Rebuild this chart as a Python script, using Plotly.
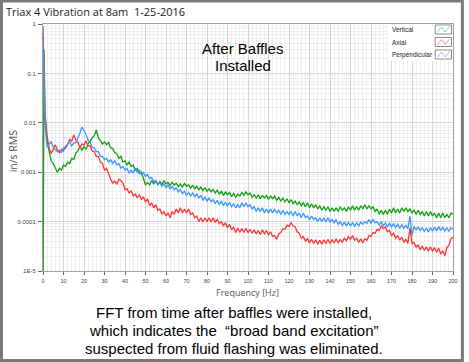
import plotly.graph_objects as go

# ---------------- data ----------------
freq_hz = [0, 0.5] + list(range(1, 201))

vertical = [
    1e-6, 0.3,
    0.012, 0.0045, 0.0026, 0.0017, 0.0015, 0.0012, 0.0010, 0.0012, 0.0011, 0.0014,
    0.0013, 0.0016, 0.0015, 0.0019, 0.0018, 0.0024, 0.0027, 0.0033, 0.0028, 0.0033,
    0.0029, 0.0038, 0.0042, 0.0050, 0.0055, 0.0072, 0.0050, 0.0043, 0.0037, 0.0041,
    0.0036, 0.0040, 0.0031, 0.0030, 0.0025, 0.0024, 0.0019, 0.0021, 0.0016, 0.0017,
    0.0014, 0.0016, 0.0013, 0.0014, 0.0011, 0.0012, 0.00095, 0.0010, 0.00075, 0.00055,
    0.00062, 0.00055, 0.00068, 0.00058, 0.00066, 0.00057, 0.00065, 0.00056, 0.00068, 0.00058,
    0.00062, 0.00054, 0.00063, 0.00055, 0.00060, 0.00051, 0.00058, 0.00050, 0.00059, 0.00052,
    0.00056, 0.00047, 0.00055, 0.00046, 0.00052, 0.00044, 0.00050, 0.00042, 0.00049, 0.00041,
    0.00046, 0.00040, 0.00045, 0.00038, 0.00043, 0.00036, 0.00041, 0.00034, 0.00040, 0.00035,
    0.00039, 0.00032, 0.00037, 0.00031, 0.00036, 0.00033, 0.00039, 0.00034, 0.00040, 0.00035,
    0.00038, 0.00031, 0.00035, 0.00030, 0.00035, 0.00029, 0.00034, 0.00030, 0.00034, 0.00028,
    0.00033, 0.00029, 0.00033, 0.00027, 0.00031, 0.00026, 0.00030, 0.00025, 0.00029, 0.00024,
    0.00028, 0.00023, 0.00026, 0.00022, 0.00025, 0.00021, 0.00024, 0.00020, 0.00024, 0.00019,
    0.00023, 0.00019, 0.00022, 0.00018, 0.00021, 0.00017, 0.00020, 0.00017, 0.00020, 0.00016,
    0.00019, 0.00016, 0.00019, 0.00016, 0.00020, 0.00017, 0.00019, 0.00016, 0.00020, 0.00017,
    0.00021, 0.00017, 0.00020, 0.00017, 0.00021, 0.00018, 0.00022, 0.00018, 0.00021, 0.00018,
    0.00020, 0.00016, 0.00018, 0.00014, 0.00017, 0.00014, 0.00017, 0.00014, 0.00018, 0.00015,
    0.00019, 0.00015, 0.00018, 0.00015, 0.00019, 0.00016, 0.00019, 0.00016, 0.00018, 0.00015,
    0.00017, 0.00014, 0.00017, 0.00014, 0.00016, 0.00013, 0.00016, 0.00013, 0.00016, 0.00013,
    0.00015, 0.00012, 0.00015, 0.00012, 0.00015, 0.00012, 0.00014, 0.00012, 0.00015, 0.00014,
]

axial = [
    0.9, 0.05,
    0.016, 0.0055, 0.0030, 0.0024, 0.0029, 0.0036, 0.0028, 0.0025, 0.0029, 0.0027,
    0.0034, 0.0036, 0.0046, 0.0042, 0.0057, 0.0045, 0.0041, 0.0031, 0.0037, 0.0036,
    0.0043, 0.0034, 0.0034, 0.0027, 0.0026, 0.0021, 0.0021, 0.0016, 0.0015, 0.0011,
    0.0012, 0.00090, 0.00072, 0.00060, 0.00066, 0.00058, 0.00072, 0.00068, 0.00060, 0.00044,
    0.00046, 0.00038, 0.00042, 0.00033, 0.00036, 0.00030, 0.00035, 0.00028, 0.00032, 0.00025,
    0.00029, 0.00021, 0.00024, 0.00019, 0.00022, 0.00017, 0.00018, 0.00014, 0.00016, 0.00013,
    0.00015, 0.00012, 0.00016, 0.00014, 0.00018, 0.00015, 0.00019, 0.00015, 0.00018, 0.00015,
    0.00018, 0.00014, 0.00015, 0.00012, 0.00013, 0.00010, 0.00012, 0.000098, 0.00012, 0.00010,
    0.00012, 0.000098, 0.00012, 0.000098, 0.00011, 0.000090, 0.00010, 0.000082, 0.000095, 0.000075,
    0.000088, 0.000068, 0.000078, 0.000060, 0.000074, 0.000061, 0.000072, 0.000060, 0.000073, 0.000060,
    0.000070, 0.000058, 0.000068, 0.000056, 0.000066, 0.000055, 0.000068, 0.000057, 0.000066, 0.000054,
    0.000062, 0.000050, 0.000052, 0.000044, 0.000056, 0.000060, 0.000072, 0.000070, 0.000085, 0.000080,
    0.000095, 0.000082, 0.000078, 0.000062, 0.000058, 0.000046, 0.000050, 0.000040, 0.000046, 0.000037,
    0.000044, 0.000036, 0.000043, 0.000035, 0.000042, 0.000035, 0.000043, 0.000036, 0.000044, 0.000036,
    0.000043, 0.000037, 0.000045, 0.000037, 0.000043, 0.000038, 0.000046, 0.000041, 0.000050, 0.000044,
    0.000052, 0.000042, 0.000046, 0.000038, 0.000045, 0.000037, 0.000045, 0.000042, 0.000052, 0.000050,
    0.000060, 0.000058, 0.000070, 0.000066, 0.000082, 0.000072, 0.000078, 0.000062, 0.000066, 0.000052,
    0.000058, 0.000046, 0.000052, 0.000042, 0.000048, 0.000038, 0.000044, 0.000036, 0.000075, 0.000036,
    0.000038, 0.000030, 0.000034, 0.000027, 0.000032, 0.000026, 0.000031, 0.000025, 0.000031, 0.000025,
    0.000030, 0.000024, 0.000029, 0.000022, 0.000026, 0.000020, 0.000030, 0.000033, 0.000045, 0.000048,
]

perpendicular = [
    0.5, 0.03,
    0.009, 0.0032, 0.0036, 0.0042, 0.0032, 0.0029, 0.0026, 0.0028, 0.0025, 0.0031,
    0.0030, 0.0037, 0.0041, 0.0034, 0.0039, 0.0040, 0.0048, 0.0062, 0.0082, 0.0068,
    0.0058, 0.0044, 0.0040, 0.0032, 0.0031, 0.0026, 0.0026, 0.0021, 0.0021, 0.0018,
    0.0019, 0.0016, 0.0018, 0.0015, 0.0017, 0.0014, 0.0015, 0.0012, 0.0013, 0.0011,
    0.0012, 0.00095, 0.0011, 0.00096, 0.0012, 0.0010, 0.0011, 0.00090, 0.00098, 0.00082,
    0.00090, 0.00074, 0.00078, 0.00064, 0.00068, 0.00055, 0.00062, 0.00052, 0.00058, 0.00049,
    0.00055, 0.00046, 0.00052, 0.00044, 0.00048, 0.00040, 0.00045, 0.00037, 0.00041, 0.00034,
    0.00039, 0.00033, 0.00038, 0.00032, 0.00036, 0.00030, 0.00034, 0.00027, 0.00031, 0.00026,
    0.00030, 0.00025, 0.00028, 0.00023, 0.00027, 0.00022, 0.00026, 0.00021, 0.00025, 0.00021,
    0.00024, 0.00020, 0.00023, 0.00019, 0.00022, 0.00019, 0.00024, 0.00020, 0.00024, 0.00020,
    0.00022, 0.00018, 0.00020, 0.00016, 0.00019, 0.00016, 0.00019, 0.00015, 0.00018, 0.00015,
    0.00018, 0.00015, 0.00018, 0.00015, 0.00017, 0.00014, 0.00017, 0.00014, 0.00016, 0.00014,
    0.00016, 0.00013, 0.00016, 0.00013, 0.00015, 0.00012, 0.00015, 0.00012, 0.00013, 0.00011,
    0.00013, 0.00011, 0.00012, 0.00010, 0.00012, 0.00010, 0.00012, 0.000098, 0.00012, 0.000098,
    0.00011, 0.000095, 0.00011, 0.000088, 0.00010, 0.000084, 0.000098, 0.000082, 0.000096, 0.000082,
    0.000095, 0.000080, 0.000094, 0.000082, 0.000098, 0.000088, 0.00010, 0.000092, 0.00011, 0.000094,
    0.00011, 0.000095, 0.00010, 0.000086, 0.000098, 0.000082, 0.000094, 0.000078, 0.000092, 0.000078,
    0.000090, 0.000076, 0.000088, 0.000074, 0.000086, 0.000073, 0.000084, 0.000072, 0.00013, 0.000052,
    0.000080, 0.000068, 0.000078, 0.000066, 0.000076, 0.000063, 0.000074, 0.000062, 0.000076, 0.000064,
    0.000078, 0.000065, 0.000079, 0.000066, 0.000078, 0.000064, 0.000076, 0.000063, 0.000075, 0.000070,
]

series_names = ["Vertical", "Axial", "Perpendicular"]
series_values = [vertical, axial, perpendicular]
series_colors = ["#12a012", "#ff3535", "#3a96ff"]
legend_icon_colors = ["#7ee07e", "#ff9090", "#8cc4ff"]

y_tick_values = [1e-5, 1e-4, 1e-3, 1e-2, 1e-1, 1]
y_tick_labels = ["1E-5", "0.0001", "0.001", "0.01", "0.1", "1"]
x_tick_values = list(range(0, 201, 10))

chart_title = "Triax 4 Vibration at 8am  1-25-2016"
x_title = "Frequency [Hz]"
y_title = "in/s RMS"
inset_lines = ["After Baffles", "Installed"]
caption_lines = [
    "FFT from time after baffles were installed,",
    "which indicates the  \u201cbroad band excitation\u201d",
    "suspected from fluid flashing was eliminated.",
]

# ---------------- layout geometry (pixels) ----------------
W, H = 469, 362
ML, MR, MT, MB = 43, 11, 24, 91
PW, PH = W - ML - MR, H - MT - MB


def px(x):
    return (x - ML) / PW


def py(y):
    return (H - MB - y) / PH


fig = go.Figure()
for name, vals, col in zip(series_names, series_values, series_colors):
    fig.add_trace(go.Scatter(x=freq_hz, y=vals, mode="lines", name=name,
                             line=dict(color=col, width=1.3), showlegend=False))

tick_font = dict(family="Liberation Sans, Arial", size=6, color="#444444")

fig.update_layout(
    width=W, height=H,
    margin=dict(l=ML, r=MR, t=MT, b=MB, pad=0),
    paper_bgcolor="white", plot_bgcolor="white",
    showlegend=False,
    xaxis=dict(range=[0, 200], tickvals=x_tick_values, ticks="outside", ticklen=3,
               tickcolor="#666666", tickfont=dict(family="Liberation Sans, Arial", size=5.5,
                                                  color="#444444"),
               showline=True, linecolor="#a0a0a0",
               mirror=True, showgrid=True, gridcolor="#d6d6d6", gridwidth=1, zeroline=False,
               minor=dict(dtick=2, showgrid=True, gridcolor="#eeeeee", ticks=""),
               ticklabelstandoff=1),
    yaxis=dict(type="log", range=[-5, 0], tickvals=y_tick_values, ticktext=y_tick_labels,
               ticks="outside", ticklen=4, tickcolor="#666666", tickfont=tick_font,
               showline=True, linecolor="#a0a0a0", mirror=True, showgrid=True,
               gridcolor="#d6d6d6", zeroline=False,
               minor=dict(dtick="D1", showgrid=True, gridcolor="#eeeeee", ticks=""),
               ticklabelstandoff=1),
)

annotations = []
# title
annotations.append(dict(x=px(4), y=py(11), xref="paper", yref="paper", text=chart_title,
                        showarrow=False, xanchor="left", yanchor="middle",
                        font=dict(family="Open Sans", size=11, color="#1a1a1a")))
# axis titles
annotations.append(dict(x=px(250), y=py(292), xref="paper", yref="paper", text=x_title,
                        showarrow=False, xanchor="center", yanchor="middle",
                        font=dict(family="Open Sans", size=9, color="#555555")))
annotations.append(dict(x=px(13), y=py(151), xref="paper", yref="paper", text=y_title,
                        showarrow=False, xanchor="center", yanchor="middle", textangle=-90,
                        font=dict(family="Open Sans", size=10.5, color="#555555")))
# inset text
for t, yy in zip(inset_lines, [48, 65]):
    annotations.append(dict(x=px(245), y=py(yy), xref="paper", yref="paper", text=t,
                            showarrow=False, xanchor="center", yanchor="middle",
                            font=dict(family="Liberation Sans, Arial", size=15, color="black")))
# caption
for t, yy in zip(caption_lines, [312, 330, 348.5]):
    annotations.append(dict(x=px(236), y=py(yy), xref="paper", yref="paper", text=t,
                            showarrow=False, xanchor="center", yanchor="middle",
                            font=dict(family="Liberation Sans, Arial", size=15, color="black")))

shapes = []
# outer frame of the picture
shapes.append(dict(type="rect", xref="paper", yref="paper", x0=px(1), x1=px(W - 1.5),
                   y0=py(H - 1.5), y1=py(1), line=dict(color="#7a7a7a", width=3)))
# custom legend
shapes.append(dict(type="rect", xref="paper", yref="paper", x0=px(392), x1=px(457.5),
                   y0=py(61), y1=py(24.5), fillcolor="white", line=dict(width=0)))
legend_rows = [29.5, 42, 54.5]
for name, icol, yc in zip(series_names, legend_icon_colors, legend_rows):
    annotations.append(dict(x=px(394), y=py(yc), xref="paper", yref="paper", text=name,
                            showarrow=False, xanchor="left", yanchor="middle",
                            font=dict(family="Liberation Sans, Arial", size=6.5, color="#222222")))
    bx0, bx1, by0, by1 = 440, 456.5, yc - 4.5, yc + 4.5
    shapes.append(dict(type="rect", xref="paper", yref="paper", x0=px(bx0), x1=px(bx1),
                       y0=py(by1), y1=py(by0), fillcolor="white",
                       line=dict(color="#8a8a8a", width=1)))
    pts = [(bx0 + 2, by1 - 1.5), (bx0 + 6.5, by0 + 2), (bx0 + 10, by1 - 2), (bx1 - 2, by0 + 1.5)]
    path = "M " + " L ".join(f"{px(a):.5f},{py(b):.5f}" for a, b in pts)
    shapes.append(dict(type="path", xref="paper", yref="paper", path=path,
                       line=dict(color=icol, width=1)))

fig.update_layout(annotations=annotations, shapes=shapes)
fig.write_html("out.html", config={"displayModeBar": False},
               post_script="document.body.style.margin='0';document.body.style.padding='0';")
